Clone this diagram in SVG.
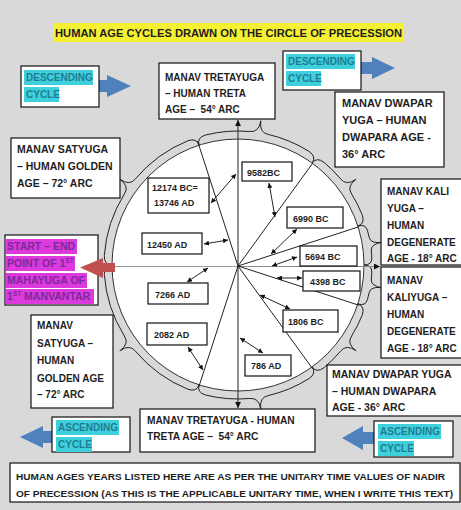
<svg xmlns="http://www.w3.org/2000/svg" width="461" height="510" viewBox="0 0 461 510">
<defs>
<style>
.bx{fill:#fff;stroke:#111;stroke-width:1.2}
.t{font-family:'Liberation Sans',Arial,sans-serif;font-weight:bold;fill:#1e1e1e}
.n{font-size:9px}
.cy{fill:#3fd0de}
.ct{fill:#1f7c90}
.mg{fill:#dc3adc}
.mt{fill:#7a2a9a}
.ln{stroke:#222;stroke-width:1;fill:none}
.blue{fill:#4f81bd}
</style>
<marker id="a" viewBox="0 0 10 10" refX="10" refY="5" markerWidth="5" markerHeight="5" markerUnits="userSpaceOnUse" orient="auto-start-reverse"><path d="M0,0 L10,5 L0,10 z" fill="#111"/></marker>
<marker id="b" viewBox="0 0 10 10" refX="10" refY="5" markerWidth="6" markerHeight="6" markerUnits="userSpaceOnUse" orient="auto-start-reverse"><path d="M0,0 L10,5 L0,10 z" fill="#111"/></marker>
</defs>
<rect width="461" height="510" fill="#d9d9d9"/>

<g id="title">
<rect x="53" y="23" width="350" height="19" fill="#f5f032"/>
<text class="t" x="55" y="37" font-size="11" textLength="347" lengthAdjust="spacingAndGlyphs">HUMAN AGE CYCLES DRAWN ON THE CIRCLE OF PRECESSION</text>
</g>

<g id="circle">
<circle cx="238" cy="265" r="126" fill="#fff" stroke="#333" stroke-width="1"/>
<path class="ln" stroke="#333" d="M112,265 Q104,265 104.3,255.6 A134,134 0 0 1 124.4,194 Q129.6,186.2 119.9,179.2 Q129.6,186.2 135.4,178.9 A134,134 0 0 1 187.8,140.8 Q196.6,137.6 199.1,145.2 Q196.6,137.6 205.6,135 A134,134 0 0 1 249.7,131.5 Q259,132.6 260.8,120.8 Q259,132.6 268.2,134.4 A134,134 0 0 1 309,151.4 Q316.8,156.6 312.1,163.1 Q316.8,156.6 324.1,162.4 A134,134 0 0 1 340.6,178.9 Q346.4,186.2 356.1,179.2 Q346.4,186.2 351.6,194 A134,134 0 0 1 362.2,214.8 Q365.4,223.6 357.8,226.1 Q365.4,223.6 367.4,230.3 A134,134 0 0 1 369.1,237.1 Q370.4,244 382.2,242.2 Q370.4,244 371.3,251 A134,134 0 0 1 371.8,258 Q372,265 364,265 Q372,265 371.8,272 A134,134 0 0 1 371.3,279 Q370.4,286 382.2,287.8 Q370.4,286 369.1,292.9 A134,134 0 0 1 367.4,299.7 Q365.4,306.4 357.8,303.9 Q365.4,306.4 362.2,315.2 A134,134 0 0 1 351.6,336 Q346.4,343.8 356.1,350.8 Q346.4,343.8 340.6,351.1 A134,134 0 0 1 324.1,367.6 Q316.8,373.4 312.1,366.9 Q316.8,373.4 309,378.6 A134,134 0 0 1 268.2,395.6 Q259,397.4 260.8,409.2 Q259,397.4 249.7,398.5 A134,134 0 0 1 205.6,395 Q196.6,392.4 199.1,384.8 Q196.6,392.4 187.8,389.2 A134,134 0 0 1 135.4,351.1 Q129.6,343.8 119.9,350.8 Q129.6,343.8 124.4,336 A134,134 0 0 1 104.3,274.4 Q104,265 112,265"/>
</g>

<g id="connectors">
<line x1="115" y1="266.5" x2="238" y2="266.5" stroke="#9a9a9a" stroke-width="1.2"/>
<line x1="238" y1="266.5" x2="380" y2="266.5" stroke="#8a8a8a" stroke-width="1.2" marker-end="url(#b)"/>
<line class="ln" x1="238" y1="120" x2="238" y2="408" marker-start="url(#b)" marker-end="url(#b)"/>
<line class="ln" x1="238" y1="266" x2="197.5" y2="141"/>
<line class="ln" x1="238" y1="266" x2="312.6" y2="163.3"/>
<line class="ln" x1="238" y1="266" x2="358.8" y2="226.8"/>
<line class="ln" x1="238" y1="266" x2="358.8" y2="305.2"/>
<line class="ln" x1="238" y1="266" x2="312.6" y2="368.7"/>
<line class="ln" x1="238" y1="266" x2="198.8" y2="386.8"/>
<line class="ln" x1="269" y1="183" x2="275" y2="217" marker-start="url(#a)" marker-end="url(#a)"/>
<line class="ln" x1="211" y1="203" x2="236" y2="174" marker-start="url(#a)" marker-end="url(#a)"/>
<line class="ln" x1="204" y1="244" x2="228" y2="240" marker-start="url(#a)" marker-end="url(#a)"/>
<line class="ln" x1="187" y1="282" x2="208" y2="268" marker-start="url(#a)" marker-end="url(#a)"/>
<line class="ln" x1="188" y1="347" x2="203" y2="370" marker-start="url(#a)" marker-end="url(#a)"/>
<line class="ln" x1="240" y1="338" x2="263" y2="353" marker-start="url(#a)" marker-end="url(#a)"/>
<line class="ln" x1="260" y1="295" x2="290" y2="309" marker-start="url(#a)" marker-end="url(#a)"/>
<line class="ln" x1="277" y1="278" x2="302" y2="278" marker-start="url(#a)" marker-end="url(#a)"/>
<line class="ln" x1="272" y1="266" x2="297" y2="257" marker-start="url(#a)" marker-end="url(#a)"/>
<line class="ln" x1="271" y1="254" x2="297" y2="229" marker-start="url(#a)" marker-end="url(#a)"/>
</g>

<g id="arrows">
<polygon class="blue" points="99,80 107,80 107,75 131,86 107,97 107,92 99,92"/>
<polygon class="blue" points="361,62 372,62 372,57 395,68 372,79 372,74 361,74"/>
<polygon class="blue" points="52,431 43,431 43,426 20,437 43,448 43,443 52,443"/>
<polygon class="blue" points="374,432 363,432 363,426 342,438 363,450 363,444 374,444"/>
</g>

<g id="desc-left">
<rect class="bx" x="21" y="66" width="78" height="41"/>
<rect class="cy" x="24" y="70" width="69" height="15"/>
<rect class="cy" x="24" y="87" width="35" height="15"/>
<text class="t ct" font-size="10" x="26" y="81">DESCENDING</text>
<text class="t ct" font-size="10" x="26" y="98">CYCLE</text>
</g>

<g id="desc-right">
<rect class="bx" x="283" y="51" width="78" height="39"/>
<rect class="cy" x="286" y="54" width="69" height="15"/>
<rect class="cy" x="286" y="71" width="35" height="15"/>
<text class="t ct" font-size="10" x="288" y="65">DESCENDING</text>
<text class="t ct" font-size="10" x="288" y="82">CYCLE</text>
</g>

<g id="treta-top">
<rect class="bx" x="159" y="63" width="116" height="56"/>
<text class="t" font-size="10" x="165" y="81">MANAV TRETAYUGA</text>
<text class="t" font-size="10" x="165" y="97">– HUMAN TRETA</text>
<text class="t" font-size="10" x="165" y="113">AGE – &#160;54° ARC</text>
</g>

<g id="dwapar-top">
<rect class="bx" x="335" y="92" width="109" height="75"/>
<text class="t" font-size="11" x="342" y="107">MANAV DWAPAR</text>
<text class="t" font-size="11" x="342" y="124">YUGA – HUMAN</text>
<text class="t" font-size="11" x="342" y="141">DWAPARA AGE -</text>
<text class="t" font-size="11" x="342" y="158">36° ARC</text>
</g>

<g id="satyuga-top">
<rect class="bx" x="11" y="138" width="109" height="60"/>
<text class="t" font-size="10.5" x="17" y="153">MANAV SATYUGA</text>
<text class="t" font-size="10.5" x="17" y="170">– HUMAN GOLDEN</text>
<text class="t" font-size="10.5" x="17" y="187">AGE – 72° ARC</text>
</g>

<g id="kali-1">
<rect class="bx" x="381" y="179" width="90" height="86"/>
<text class="t" font-size="10" x="387" y="195">MANAV KALI</text>
<text class="t" font-size="10" x="387" y="212">YUGA –</text>
<text class="t" font-size="10" x="387" y="229">HUMAN</text>
<text class="t" font-size="10" x="387" y="246">DEGENERATE</text>
<text class="t" font-size="10" x="387" y="262">AGE - 18° ARC</text>
</g>

<g id="kali-2">
<rect class="bx" x="381" y="267" width="90" height="91"/>
<text class="t" font-size="10" x="387" y="284">MANAV</text>
<text class="t" font-size="10" x="387" y="301">KALIYUGA –</text>
<text class="t" font-size="10" x="387" y="318">HUMAN</text>
<text class="t" font-size="10" x="387" y="335">DEGENERATE</text>
<text class="t" font-size="10" x="387" y="352">AGE - 18° ARC</text>
</g>

<g id="start-end">
<rect class="bx" x="5" y="235" width="93" height="70"/>
<rect class="mg" x="6" y="239" width="71" height="15"/>
<rect class="mg" x="6" y="256" width="69" height="15"/>
<rect class="mg" x="6" y="273" width="81" height="15"/>
<rect class="mg" x="6" y="289" width="88" height="15"/>
<text class="t mt" font-size="10.5" x="7" y="250">START – END</text>
<text class="t mt" font-size="10.5" x="7" y="267">POINT OF 1<tspan font-size="6.5" dy="-4">ST</tspan></text>
<text class="t mt" font-size="10.5" x="7" y="284">MAHAYUGA OF</text>
<text class="t mt" font-size="10.5" x="7" y="300">1<tspan font-size="6.5" dy="-4">ST</tspan><tspan dy="4"> MANVANTAR</tspan></text>
</g>

<g id="start-arrow">
<polygon fill="#c0504d" points="115,263 103,263 103,258 80,267.5 103,278 103,272 115,272"/>
</g>

<g id="satyuga-bottom">
<rect class="bx" x="31" y="315" width="82" height="93"/>
<text class="t" font-size="10" x="37" y="329">MANAV</text>
<text class="t" font-size="10" x="37" y="347">SATYUGA –</text>
<text class="t" font-size="10" x="37" y="364">HUMAN</text>
<text class="t" font-size="10" x="37" y="382">GOLDEN AGE</text>
<text class="t" font-size="10" x="37" y="398">– 72° ARC</text>
</g>

<g id="asc-left">
<rect class="bx" x="52" y="417" width="78" height="35"/>
<rect class="cy" x="56" y="420" width="63" height="15"/>
<rect class="cy" x="56" y="437" width="36" height="15"/>
<text class="t ct" font-size="10" x="58" y="431">ASCENDING</text>
<text class="t ct" font-size="10" x="58" y="448">CYCLE</text>
</g>

<g id="treta-bottom">
<rect class="bx" x="140" y="409" width="175" height="43"/>
<text class="t" font-size="10.2" x="147" y="424">MANAV TRETAYUGA - HUMAN</text>
<text class="t" font-size="10.2" x="147" y="440">TRETA AGE – &#160;54° ARC</text>
</g>

<g id="dwapar-bottom">
<rect class="bx" x="327" y="365" width="140" height="51"/>
<text class="t" font-size="10.5" x="332" y="378">MANAV DWAPAR YUGA</text>
<text class="t" font-size="10.5" x="332" y="395">– HUMAN DWAPARA</text>
<text class="t" font-size="10.5" x="332" y="411">AGE - 36° ARC</text>
</g>

<g id="asc-right">
<rect class="bx" x="374" y="421" width="79" height="36"/>
<rect class="cy" x="378" y="424" width="63" height="15"/>
<rect class="cy" x="378" y="441" width="36" height="15"/>
<text class="t ct" font-size="10" x="380" y="435">ASCENDING</text>
<text class="t ct" font-size="10" x="380" y="452">CYCLE</text>
</g>

<g id="note">
<rect class="bx" x="10" y="463" width="450" height="39"/>
<text class="t" font-size="9.9" x="16" y="480" textLength="429" lengthAdjust="spacingAndGlyphs">HUMAN AGES YEARS LISTED HERE ARE AS PER THE UNITARY TIME VALUES OF NADIR</text>
<text class="t" font-size="9.6" x="16" y="497" textLength="437" lengthAdjust="spacingAndGlyphs">OF PRECESSION (AS THIS IS THE APPLICABLE UNITARY TIME, WHEN I WRITE THIS TEXT)</text>
</g>

<g id="y9582"><rect class="bx" x="242" y="162" width="50" height="19"/><text class="t n" x="247" y="176">9582BC</text></g>
<g id="y12174"><rect class="bx" x="148" y="178" width="61" height="35"/><text class="t n" x="152" y="191">12174 BC=</text><text class="t n" x="154" y="206">13746 AD</text></g>
<g id="y12450"><rect class="bx" x="142" y="233" width="60" height="21"/><text class="t n" x="147" y="248">12450 AD</text></g>
<g id="y7266"><rect class="bx" x="148" y="283" width="60" height="21"/><text class="t n" x="155" y="298">7266 AD</text></g>
<g id="y2082"><rect class="bx" x="147" y="323" width="60" height="22"/><text class="t n" x="154" y="338">2082 AD</text></g>
<g id="y786"><rect class="bx" x="245" y="355" width="46" height="21"/><text class="t n" x="251" y="369">786 AD</text></g>
<g id="y1806"><rect class="bx" x="283" y="310" width="55" height="22"/><text class="t n" x="288" y="325">1806 BC</text></g>
<g id="y4398"><rect class="bx" x="303" y="271" width="57" height="20"/><text class="t n" x="310" y="285">4398 BC</text></g>
<g id="y5694"><rect class="bx" x="300" y="246" width="57" height="20"/><text class="t n" x="305" y="260">5694 BC</text></g>
<g id="y6990"><rect class="bx" x="287" y="207" width="56" height="21"/><text class="t n" x="293" y="222">6990 BC</text></g>
</svg>
